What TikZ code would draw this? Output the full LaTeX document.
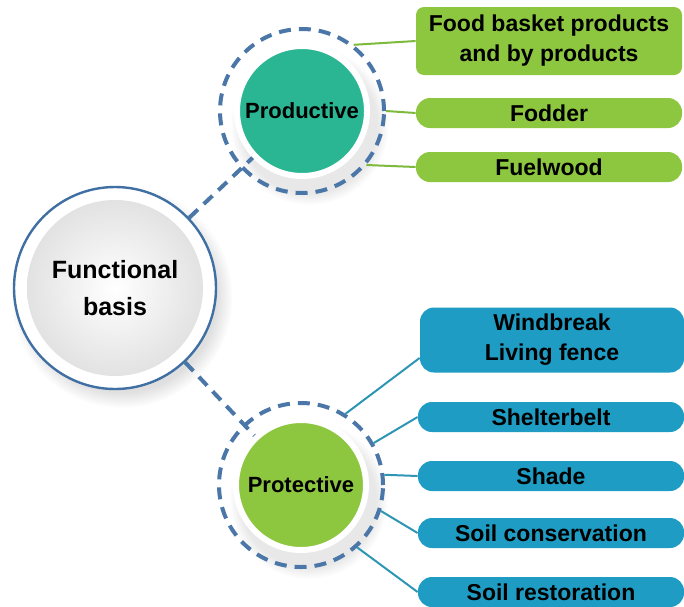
\documentclass[tikz,border=0pt]{standalone}
\usepackage{fontspec}
\setmainfont{Liberation Sans}
\usetikzlibrary{positioning, shadows}
\definecolor{ringblue}{HTML}{4A77A8}
\definecolor{hubblue}{HTML}{3F6FA3}
\definecolor{teal}{HTML}{2AB593}
\definecolor{lime}{HTML}{8DC63F}
\definecolor{limeline}{HTML}{7DB93A}
\definecolor{sky}{HTML}{1E9CC3}
\definecolor{skyline}{HTML}{2E95B5}
\tikzset{
  hub/.style={circle, draw=hubblue, line width=1.2pt, fill=white, minimum size=101pt, inner sep=0pt,
    align=center, font=\fontsize{12.5}{18.5}\selectfont\bfseries,
    path picture={\shade[inner color=white, outer color=black!13]
      (path picture bounding box.center) circle (44pt);},
    circular drop shadow={shadow xshift=3pt, shadow yshift=-4pt, opacity=0.25}},
  sub/.style={circle, draw=white, line width=3pt, minimum size=65pt, inner sep=0pt,
    font=\fontsize{11}{14}\selectfont\bfseries,
    circular drop shadow={shadow xshift=3pt, shadow yshift=-6pt, opacity=0.18, shadow scale=1.22}},
  ring/.style={circle, draw=ringblue, line width=2pt, dash pattern=on 6pt off 4pt, minimum size=82pt, inner sep=0pt},
  leaf/.style={minimum width=133pt, minimum height=15pt, inner sep=0pt, align=center,
    rounded corners=7pt, font=\fontsize{11.5}{15}\selectfont\bfseries},
  leafg/.style={leaf, fill=lime},
  leafb/.style={leaf, fill=sky},
  dlnk/.style={draw=ringblue, line width=2pt, dash pattern=on 6pt off 4pt},
  glnk/.style={draw=limeline, line width=1pt},
  blnk/.style={draw=skyline, line width=1pt}
}

\begin{document}
\begin{tikzpicture}[x=0.5pt, y=-0.5pt]
		\useasboundingbox (0,0) rectangle (684,606);
		% main hub and the two branches
		\node[hub] (fun) at (115,288) {Functional\\basis};
		\node[sub, fill=teal] (prod) at (302,111) {Productive};
		\node[sub, fill=lime] (prot) at (301,485) {Protective};
		\node[ring] (prodring) at (prod) {};
		\node[ring] (protring) at (prot) {};
		\draw[dlnk] (fun) -- (prod);
		\draw[dlnk] (fun) -- (prot);
		% productive uses
		\node[leafg, minimum height=34pt, rounded corners=4pt] (food) at (549,41) {Food basket products\\and by products};
		\node[leafg] (fodder) at (549,113) {Fodder};
		\node[leafg] (fuel) at (549,167) {Fuelwood};
		\draw[glnk] (prodring.52) -- (food.west);
		\draw[glnk] (prodring.east) -- (fodder.west);
		\draw[glnk] (prodring.-40) -- (fuel.west);
		% protective uses
		\node[leafb, minimum width=132pt, minimum height=32.5pt] (wind) at (552,340) {Windbreak\\Living fence};
		\node[leafb] (shelter) at (551,417) {Shelterbelt};
		\node[leafb] (shade) at (551,476) {Shade};
		\node[leafb] (cons) at (551,533) {Soil conservation};
		\node[leafb] (rest) at (551,592) {Soil restoration};
		\draw[blnk] (protring.58) -- ([yshift=-9pt]wind.west);
		\draw[blnk] (protring.30) -- (shelter.west);
		\draw[blnk] (protring.7) -- (shade.west);
		\draw[blnk] (protring.-18) -- (cons.west);
		\draw[blnk] (protring.-48) -- (rest.west);
	\end{tikzpicture}
\end{document}
